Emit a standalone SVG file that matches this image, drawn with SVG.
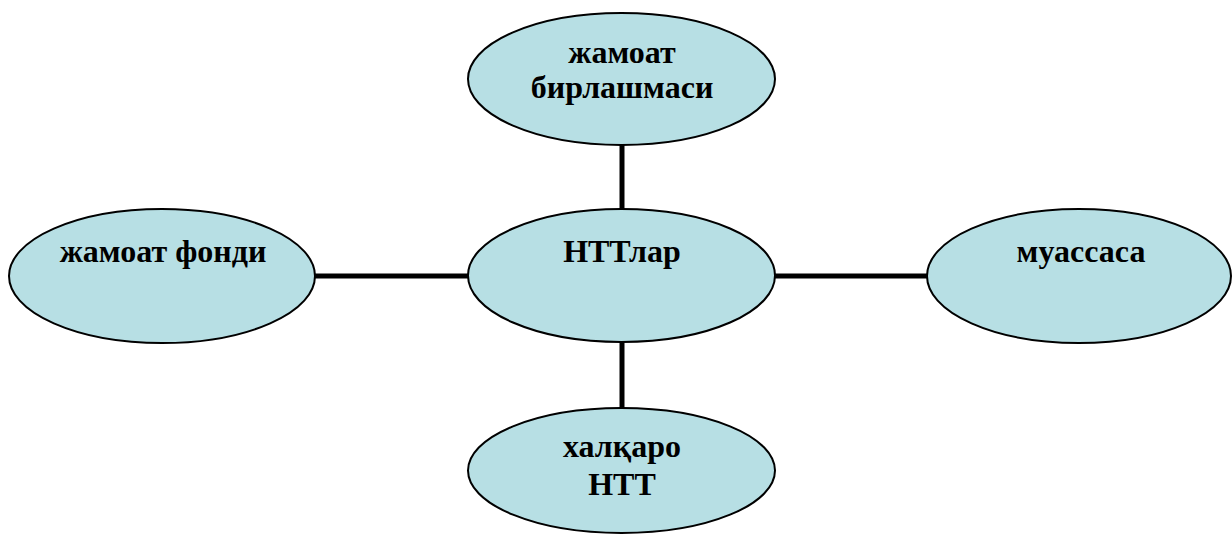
<svg xmlns="http://www.w3.org/2000/svg" width="1232" height="536" viewBox="0 0 1232 536">
<style>
.node ellipse{fill:#B7DFE4;stroke:#000;stroke-width:2}
.node text{font-family:'Liberation Serif',serif;font-weight:700;font-size:32px;fill:#000;text-anchor:middle}
.conn line{stroke:#000;stroke-width:5}
</style>
<rect width="1232" height="536" fill="#fff"/>
<g id="connectors" class="conn">
<line x1="622" y1="144" x2="622" y2="210"/>
<line x1="622" y1="341" x2="622" y2="409"/>
<line x1="314" y1="276" x2="469" y2="276"/>
<line x1="774" y1="276" x2="928" y2="276"/>
</g>
<g id="node-top" class="node">
<ellipse cx="621.5" cy="79" rx="153.5" ry="66"/>
<text x="622" y="63" font-family="Liberation Serif">жамоат</text>
<text x="622" y="98" font-family="Liberation Serif">бирлашмаси</text>
</g>
<g id="node-center" class="node">
<ellipse cx="621.5" cy="275.5" rx="153.5" ry="66.5"/>
<text x="622" y="262" font-family="Liberation Serif">НТТлар</text>
</g>
<g id="node-left" class="node">
<ellipse cx="162" cy="276" rx="153" ry="67"/>
<text x="163" y="262" font-family="Liberation Serif">жамоат фонди</text>
</g>
<g id="node-right" class="node">
<ellipse cx="1079" cy="276" rx="152" ry="67"/>
<text x="1081" y="262" font-family="Liberation Serif">муассаса</text>
</g>
<g id="node-bottom" class="node">
<ellipse cx="621.5" cy="470.5" rx="153.5" ry="62.5"/>
<text x="622" y="457" font-family="Liberation Serif">халқаро</text>
<text x="622" y="495" font-family="Liberation Serif">НТТ</text>
</g>
</svg>
